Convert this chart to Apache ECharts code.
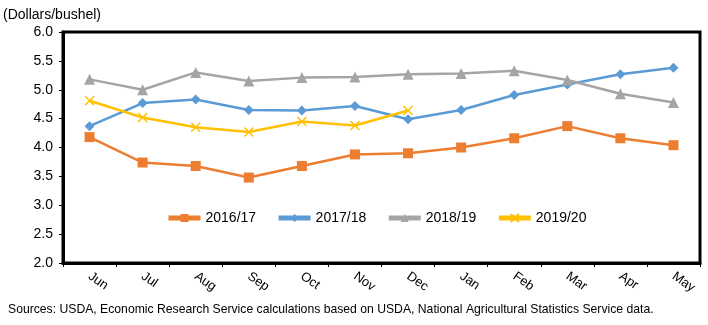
<!DOCTYPE html>
<html><head><meta charset="utf-8">
<script src="https://cdn.jsdelivr.net/npm/echarts@6/dist/echarts.min.js"></script>
<style>html,body{margin:0;padding:0;background:#fff}#c{width:708px;height:325px}</style>
</head><body><div id="c"></div>
<script>
const months = ['Jun','Jul','Aug','Sep','Oct','Nov','Dec','Jan','Feb','Mar','Apr','May'];
const s1617 = [4.18,3.74,3.68,3.48,3.68,3.88,3.90,4.00,4.16,4.37,4.16,4.04];
const s1718 = [4.37,4.77,4.83,4.65,4.64,4.72,4.49,4.65,4.91,5.09,5.27,5.38];
const s1819 = [5.18,5.00,5.30,5.15,5.21,5.22,5.27,5.28,5.33,5.17,4.93,4.78];
const s1920 = [4.81,4.52,4.35,4.27,4.45,4.38,4.64];
const yTicks = [2.0,2.5,3.0,3.5,4.0,4.5,5.0,5.5,6.0];
const FONT = 'Liberation Sans';
const chart = echarts.init(document.getElementById('c'));
const xPath = 'path://M0,0L10,10M10,0L0,10';
function ser(name, data, color, symbol, size, extra){
  return Object.assign({
    name, type:'line', data, symbol, symbolSize:size,
    lineStyle:{color, width:2.5},
    itemStyle:{color, borderColor:color, borderWidth:0},
    emphasis:{disabled:true}, animation:false
  }, extra||{});
}
chart.setOption({
  animation:false,
  textStyle:{fontFamily:FONT},
  grid:{left:63,right:8,top:32,bottom:62,show:true,borderColor:'#000',borderWidth:3},
  title:[
    {text:'(Dollars/bushel)',left:-2,top:3,textStyle:{fontFamily:FONT,fontSize:14,fontWeight:'normal',color:'#000'}},
    {text:'Sources: USDA, Economic Research Service calculations based on USDA, National Agricultural Statistics Service data.',left:3,top:299,textStyle:{fontFamily:FONT,fontSize:12.2,fontWeight:'normal',color:'#000'}}
  ],
  legend:{
    left:161, top:206, itemWidth:32, itemHeight:10, itemGap:20,
    textStyle:{fontFamily:FONT,fontSize:14,color:'#000'},
    lineStyle:{width:5},
    data:['2016/17','2017/18','2018/19','2019/20']
  },
  xAxis:{
    type:'category', data:months, boundaryGap:true,
    axisLine:{lineStyle:{color:'#000',width:3}},
    axisTick:{show:true,length:4,lineStyle:{color:'#000',width:1}},
    axisLabel:{rotate:-35,fontFamily:FONT,fontSize:13,color:'#000',margin:12}
  },
  yAxis:{
    type:'value', min:yTicks[0], max:yTicks[yTicks.length-1], interval:0.5,
    axisLine:{show:true,lineStyle:{color:'#000',width:3}},
    axisTick:{show:true,length:4,lineStyle:{color:'#000',width:1}},
    splitLine:{show:false},
    axisLabel:{fontFamily:FONT,fontSize:14,color:'#000',margin:10,formatter:v=>v.toFixed(1)}
  },
  series:[
    ser('2016/17', s1617, '#ED7D31', 'rect', 10),
    ser('2017/18', s1718, '#5B9BD5', 'diamond', 10),
    ser('2018/19', s1819, '#A5A5A5', 'triangle', 11),
    ser('2019/20', s1920, '#FFC000', xPath, 9, {itemStyle:{color:'none',borderColor:'#FFC000',borderWidth:1.5}})
  ]
});
</script></body></html>
